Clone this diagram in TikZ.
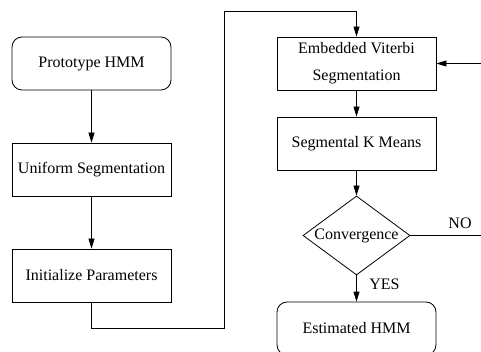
\documentclass[tikz,border=0pt]{standalone}
\usepackage{fontspec}
\setmainfont{Liberation Serif}
\usetikzlibrary{shapes.geometric,arrows.meta}

\tikzset{
  box/.style={draw, line width=0.8pt, minimum width=159pt, minimum height=53pt, inner sep=0pt, align=center},
  roundbox/.style={box, rounded corners=10pt},
  decision/.style={draw, line width=0.8pt, diamond, aspect=1.35, inner sep=0pt, minimum width=107pt, minimum height=79pt},
  arrow/.style={line width=0.8pt, -{Triangle[length=10pt,width=6pt]}},
  line/.style={line width=0.8pt}
}

\begin{document}
\begin{tikzpicture}[x=1pt, y=-1pt, font=\fontsize{16}{27}\selectfont]
  \useasboundingbox (0,0) rectangle (481,352);
  \clip (0,0) rectangle (481,352);

  % Left column
  \node[roundbox] (proto) at (91.5,63.5) {Prototype HMM};
  \node[box] (uniform) at (91.5,169.5) {Uniform Segmentation};
  \node[box] (init) at (91.5,275.5) {Initialize Parameters};

  % Right column
  \node[box] (embed) at (356.5,63.5) {Embedded Viterbi\\Segmentation};
  \node[box] (kmeans) at (356.5,143.5) {Segmental K Means};
  \node[decision] (conv) at (356.5,235.5) {Convergence};
  \node[roundbox] (estim) at (356.5,328.5) {Estimated HMM};

  % Labels
  \node (yes) at (384.5,284) {YES};
  \node (no) at (460,223) {NO};

  % Turning points
  \coordinate (turnA) at (224,328);
  \coordinate (turnB) at (224,11);
  \coordinate (noend) at (481,235.5);
  \coordinate (fbstart) at (481,63.5);

  % Arrows
  \draw[arrow] (proto) -- (uniform);
  \draw[arrow] (uniform) -- (init);
  \draw[arrow] (init.south) |- (turnA) -- (turnB) -| (embed.north);
  \draw[arrow] (embed) -- (kmeans);
  \draw[arrow] (kmeans) -- (conv);
  \draw[arrow] (conv) -- (estim);
  \draw[line] (conv.east) -- (noend);
  \draw[arrow] (fbstart) -- (embed.east);
\end{tikzpicture}
\end{document}
